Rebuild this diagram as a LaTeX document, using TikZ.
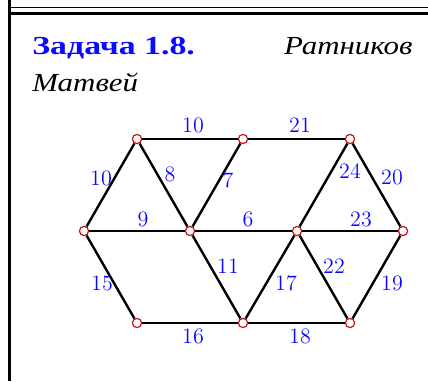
\documentclass[tikz,border=0pt]{standalone}
\usepackage{fontspec}
\newfontfamily\cyrbold[FakeStretch=1.3]{Liberation Serif Bold}
\newfontfamily\cyrital[FakeStretch=1.19]{Liberation Serif Italic}
\usetikzlibrary{positioning}
\definecolor{zadacha_blue}{RGB}{10, 10, 255}
\definecolor{vertex_red}{RGB}{200, 20, 20}

\begin{document}
\begin{tikzpicture}[x=0.5pt, y=-0.5pt, font=\fontsize{11}{13}\selectfont,
    vershina/.style={circle, draw=vertex_red, fill=white, line width=0.6pt, inner sep=0pt, minimum size=4.6pt},
    rebro/.style={line width=1.2pt},
    ves/.style={text=zadacha_blue, inner sep=1pt}]

      \useasboundingbox (0,0) rectangle (428,381);

      % 1. Рамка (двойная линия сверху, линия слева)
      \draw[line width=1.5pt] (9.5,0) -- (9.5,381);
      \draw[line width=0.75pt] (11,7.5) -- (428,7.5);
      \draw[line width=1.5pt] (8,13.5) -- (428,13.5);

      % 2. Заголовок
      \node[anchor=base west, inner sep=0pt, text=zadacha_blue, font=\fontsize{13}{15}\cyrbold] (zadacha) at (32,54) {Задача 1.8.};
      \node[anchor=base east, inner sep=0pt, font=\fontsize{13}{15}\cyrital] (familiya) at (413,54) {Ратников};
      \node[anchor=base west, inner sep=0pt, font=\fontsize{13}{15}\cyrital] (imya) at (32,91) {Матвей};

      % 3. Вершины
      \node[vershina] (A) at (137,139) {};
      \node[vershina] (B) at (243,139) {};
      \node[vershina] (C) at (350,139) {};
      \node[vershina] (D) at (84,231) {};
      \node[vershina] (E) at (190,231) {};
      \node[vershina] (F) at (297,231) {};
      \node[vershina] (G) at (403,231) {};
      \node[vershina] (H) at (137,323) {};
      \node[vershina] (I) at (243,323) {};
      \node[vershina] (J) at (350,323) {};

      % 4. Рёбра
      \draw[rebro] (A) -- (B);
      \draw[rebro] (B) -- (C);
      \draw[rebro] (A) -- (D);
      \draw[rebro] (A) -- (E);
      \draw[rebro] (B) -- (E);
      \draw[rebro] (C) -- (F);
      \draw[rebro] (C) -- (G);
      \draw[rebro] (D) -- (E);
      \draw[rebro] (E) -- (F);
      \draw[rebro] (F) -- (G);
      \draw[rebro] (D) -- (H);
      \draw[rebro] (E) -- (I);
      \draw[rebro] (F) -- (I);
      \draw[rebro] (F) -- (J);
      \draw[rebro] (G) -- (J);
      \draw[rebro] (H) -- (I);
      \draw[rebro] (I) -- (J);

      % 5. Веса рёбер
      \node[ves] (wAB) at (193,125) {10};
      \node[ves] (wBC) at (300,125) {21};
      \node[ves] (wAD) at (101,178) {10};
      \node[ves] (wAE) at (170,174) {8};
      \node[ves] (wBE) at (228,180) {7};
      \node[ves] (wCF) at (350,171) {24};
      \node[ves] (wCG) at (392,177) {20};
      \node[ves] (wDE) at (143,219) {9};
      \node[ves] (wEF) at (248,219) {6};
      \node[ves] (wFG) at (361,219) {23};
      \node[ves] (wDH) at (102,283) {15};
      \node[ves] (wEI) at (228,266) {11};
      \node[ves] (wFI) at (286,283) {17};
      \node[ves] (wFJ) at (334,266) {22};
      \node[ves] (wGJ) at (392,283) {19};
      \node[ves] (wHI) at (193,336) {16};
      \node[ves] (wIJ) at (300,336) {18};

\end{tikzpicture}
\end{document}
